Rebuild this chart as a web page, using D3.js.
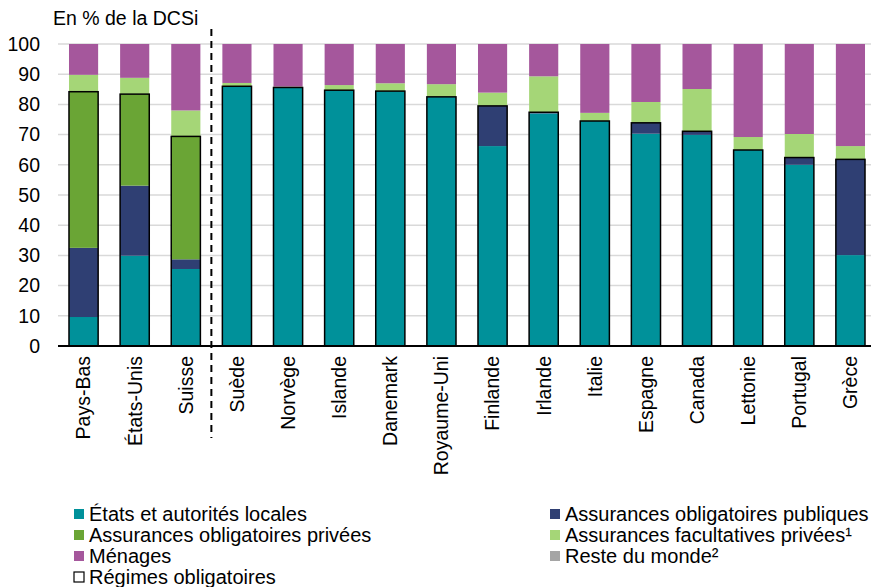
<!DOCTYPE html>
<html>
<head>
<meta charset="utf-8">
<script src="https://cdn.jsdelivr.net/npm/d3@7"></script>
<style>
  body { margin: 0; background: #fff; }
  text { font-family: "Liberation Sans", Arial, sans-serif; fill: #000; }
</style>
</head>
<body>
<svg width="871" height="587"></svg>
<script>
// categories
var countries = ["Pays-Bas", "États-Unis", "Suisse", "Suède", "Norvège", "Islande", "Danemark",
  "Royaume-Uni", "Finlande", "Irlande", "Italie", "Espagne", "Canada", "Lettonie", "Portugal", "Grèce"];

// series values (% of DCSi)
var etats      = [9.6, 29.9, 25.5, 86.0, 85.6, 84.7, 84.4, 82.5, 66.2, 77.0, 74.5, 70.3, 69.9, 64.9, 60.0, 30.1];
var oblPub     = [22.9, 23.2, 3.2, 0, 0, 0, 0, 0, 13.3, 0.4, 0, 3.6, 1.2, 0, 2.4, 31.7];
var oblPriv    = [51.7, 30.3, 40.7, 0, 0, 0, 0, 0, 0, 0, 0, 0, 0, 0, 0, 0];
var facPriv    = [5.6, 5.4, 8.6, 1.1, 0.3, 1.7, 2.6, 4.2, 4.4, 11.9, 2.7, 6.9, 14.0, 4.3, 7.8, 4.4];
var menages    = [10.2, 11.2, 22.0, 12.9, 14.1, 13.6, 13.0, 13.3, 16.1, 10.7, 22.8, 19.2, 14.9, 30.8, 29.8, 33.8];
var resteMonde = [0, 0, 0, 0, 0, 0, 0, 0, 0, 0, 0, 0, 0, 0, 0, 0];

var yTicks = [0, 10, 20, 30, 40, 50, 60, 70, 80, 90, 100];

var seriesNames = ["États et autorités locales", "Assurances obligatoires publiques",
  "Assurances obligatoires privées", "Assurances facultatives privées¹", "Ménages", "Reste du monde²"];
var seriesKeys = ["etats", "oblPub", "oblPriv", "facPriv", "menages", "resteMonde"];
var colors = ["#00919a", "#2f3f73", "#6aa535", "#a5d677", "#a5579c", "#a5a5a5"];

// build a table from the arrays
var table = countries.map(function(c, i) {
  return { country: c, etats: etats[i], oblPub: oblPub[i], oblPriv: oblPriv[i],
    facPriv: facPriv[i], menages: menages[i], resteMonde: resteMonde[i] };
});

var svg = d3.select("svg");

var x = d3.scaleBand()
  .domain(countries)
  .range([58, 876])
  .paddingInner(0.43)
  .paddingOuter(0.215);

var y = d3.scaleLinear()
  .domain([0, 100])
  .range([346, 44]);

// gridlines
svg.append("g").selectAll("line")
  .data(yTicks.filter(function(d) { return d > 0; }))
  .enter().append("line")
  .attr("x1", 58).attr("x2", 871)
  .attr("y1", function(d) { return y(d); })
  .attr("y2", function(d) { return y(d); })
  .style("stroke", "#d9d9d9")
  .style("stroke-width", 1.5);

// y axis labels
svg.append("g").selectAll("text")
  .data(yTicks)
  .enter().append("text")
  .attr("x", 40)
  .attr("y", function(d) { return y(d); })
  .attr("dy", "0.35em")
  .style("text-anchor", "end")
  .style("font-size", "19.5px")
  .text(function(d) { return d; });

// stacked bars
var stack = d3.stack().keys(seriesKeys);
var layers = stack(table);

svg.append("g").selectAll("g")
  .data(layers)
  .enter().append("g")
  .style("fill", function(d, i) { return colors[i]; })
  .selectAll("rect")
  .data(function(d) { return d; })
  .enter().append("rect")
  .attr("x", function(d) { return x(d.data.country); })
  .attr("y", function(d) { return y(d[1]); })
  .attr("width", x.bandwidth())
  .attr("height", function(d) { return y(d[0]) - y(d[1]); });

// outline of mandatory schemes
svg.append("g").selectAll("rect")
  .data(table)
  .enter().append("rect")
  .attr("x", function(d) { return x(d.country); })
  .attr("y", function(d) { return y(d.etats + d.oblPub + d.oblPriv); })
  .attr("width", x.bandwidth())
  .attr("height", function(d) { return y(0) - y(d.etats + d.oblPub + d.oblPriv); })
  .style("fill", "none")
  .style("stroke", "#000")
  .style("stroke-width", 1.5);

// x axis line
svg.append("line")
  .attr("x1", 58).attr("x2", 871)
  .attr("y1", y(0)).attr("y2", y(0))
  .style("stroke", "#000")
  .style("stroke-width", 2);

// x labels
svg.append("g").selectAll("text")
  .data(countries)
  .enter().append("text")
  .attr("transform", function(d) {
    return "translate(" + (x(d) + x.bandwidth() / 2) + ",356) rotate(-90)";
  })
  .attr("dy", "0.35em")
  .style("text-anchor", "end")
  .style("font-size", "19.5px")
  .text(function(d) { return d; });

// dashed separator between Suisse and Suède
var sepX = (x("Suisse") + x.bandwidth() + x("Suède")) / 2;
svg.append("line")
  .attr("x1", sepX).attr("x2", sepX)
  .attr("y1", 29).attr("y2", 438)
  .style("stroke", "#000")
  .style("stroke-width", 2)
  .style("stroke-dasharray", "7,5");

// title
svg.append("text")
  .attr("x", 53)
  .attr("y", 25)
  .style("font-size", "19.5px")
  .text("En % de la DCSi");

// legend
var legendItems = [
  { name: seriesNames[0], color: colors[0], col: 0, row: 0 },
  { name: seriesNames[1], color: colors[1], col: 1, row: 0 },
  { name: seriesNames[2], color: colors[2], col: 0, row: 1 },
  { name: seriesNames[3], color: colors[3], col: 1, row: 1 },
  { name: seriesNames[4], color: colors[4], col: 0, row: 2 },
  { name: seriesNames[5], color: colors[5], col: 1, row: 2 },
  { name: "Régimes obligatoires", color: null, col: 0, row: 3 }
];

var legend = svg.selectAll(".legend")
  .data(legendItems)
  .enter().append("g")
  .attr("class", "legend")
  .attr("transform", function(d) {
    return "translate(" + (d.col === 0 ? 74 : 550) + "," + (514 + d.row * 21) + ")";
  });

legend.append("rect")
  .attr("x", 0).attr("y", -5)
  .attr("width", 10).attr("height", 10)
  .style("fill", function(d) { return d.color ? d.color : "#fff"; })
  .style("stroke", function(d) { return d.color ? "none" : "#000"; })
  .style("stroke-width", 1.2);

legend.append("text")
  .attr("x", 15)
  .attr("y", 0)
  .attr("dy", "0.35em")
  .style("font-size", "20px")
  .text(function(d) { return d.name; });
</script>
</body>
</html>
